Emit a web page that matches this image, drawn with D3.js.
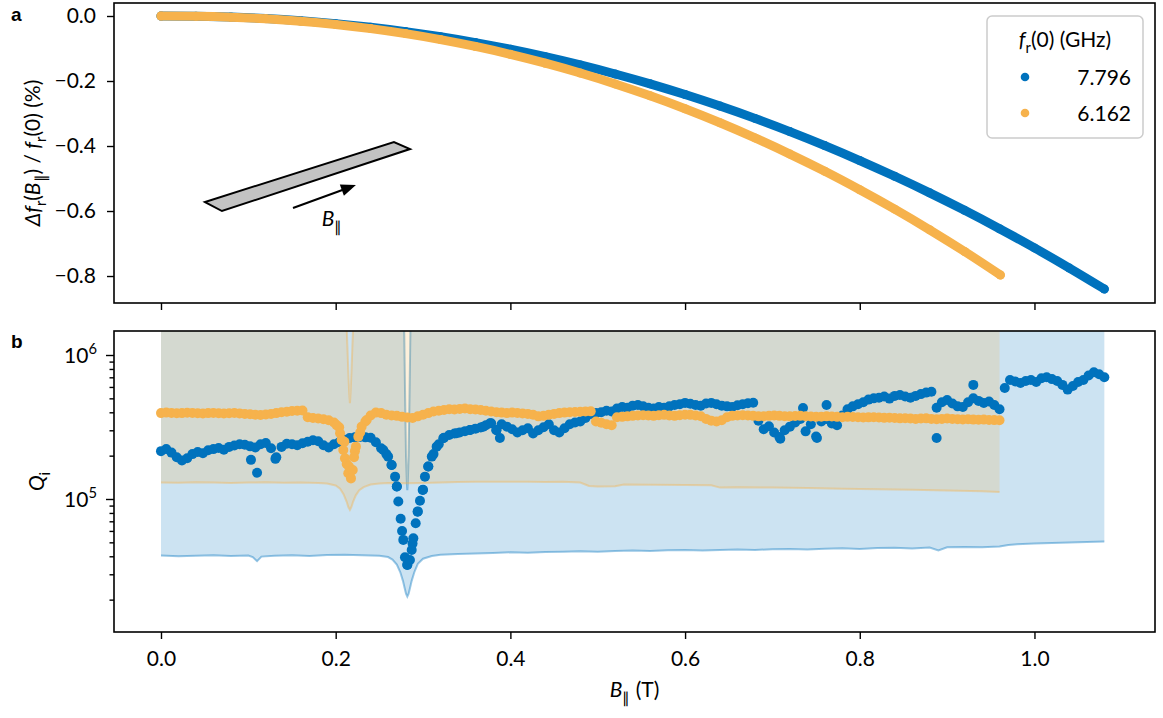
<!DOCTYPE html>
<html><head><meta charset="utf-8">
<script src="https://cdn.jsdelivr.net/npm/d3@7"></script>
<style>body{margin:0;background:#fff}</style>
</head><body>
<svg id="c" width="1163" height="718"></svg>
<script>
// ---------------- DATA ----------------
// panel a: relative frequency shift (%) vs B_parallel (T)
const shiftBlueB = [0,0.04,0.08,0.12,0.16,0.20,0.24,0.28,0.32,0.36,0.40,0.44,0.48,0.52,0.56,0.60,0.64,0.68,0.72,0.76,0.80,0.84,0.88,0.92,0.96,1.00,1.04,1.08];
const shiftBlue = [0,-0.0008,-0.0034,-0.008,-0.0147,-0.0235,-0.0346,-0.048,-0.0638,-0.0818,-0.1023,-0.1252,-0.1505,-0.1784,-0.2087,-0.2416,-0.2771,-0.315,-0.3556,-0.3987,-0.4446,-0.4931,-0.5441,-0.5979,-0.6544,-0.7135,-0.7755,-0.84];
const shiftOrangeB = [0,0.04,0.08,0.12,0.16,0.20,0.24,0.28,0.32,0.36,0.40,0.44,0.48,0.52,0.56,0.60,0.64,0.68,0.72,0.76,0.80,0.84,0.88,0.92,0.961];
const shiftOrange = [0,-0.0008,-0.0035,-0.0086,-0.016,-0.026,-0.0388,-0.0542,-0.0725,-0.0937,-0.118,-0.1452,-0.1755,-0.209,-0.2456,-0.2853,-0.3285,-0.375,-0.4248,-0.4778,-0.5345,-0.5943,-0.6578,-0.7247,-0.797];

// panel b: internal quality factor Q_i (in thousands) on a field sweep with step qStep (T)
const qStep = 0.006;
const qBlueK = [
 215,222,210,195,185,192,205,212,208,218,
 222,226,220,230,235,240,238,232,228,240,
 245,225,195,230,242,240,236,244,250,256,
 252,236,228,240,248,258,265,268,270,268,
 266,248,225,205,172,122,60,35,49,82,
 116,168,205,240,266,278,285,290,296,301,
 308,314,325,336,300,330,318,305,290,300,
 310,285,300,315,330,300,290,310,330,340,
 345,365,390,395,400,410,405,425,435,430,
 445,450,440,430,425,435,430,440,450,455,
 465,458,450,445,460,465,455,445,440,435,
 448,455,462,466,350,305,320,290,270,300,
 318,340,360,295,330,272,345,360,335,325,
 380,420,440,455,470,490,500,505,515,498,
 520,527,515,505,520,535,548,555,430,470,
 487,460,440,435,470,500,480,464,475,450,
 420,590,670,655,640,660,670,650,690,700,
 680,660,620,575,610,650,670,720,760,735,
 700];
const qOrangeK = [
 395,398,396,394,395,397,396,394,393,395,
 396,394,392,394,396,393,390,388,385,383,
 386,390,395,400,404,408,410,412,370,365,
 362,358,352,340,315,250,150,215,290,345,
 380,398,395,385,380,378,372,368,365,375,
 385,395,405,410,415,420,418,422,425,420,
 418,415,410,405,400,398,395,398,396,392,
 390,385,375,378,385,390,395,398,400,402,
 404,405,406,345,338,330,325,370,372,375,
 378,380,382,380,378,382,384,380,378,382,
 385,384,380,376,360,350,345,352,370,378,
 380,382,380,378,375,376,378,380,378,376,
 375,377,378,376,374,372,373,375,374,372,
 370,372,371,370,368,369,370,368,366,367,
 365,363,364,362,360,362,363,360,358,360,
 362,360,358,357,358,356,355,356,354,353,
 352];
// extra measured points in the resonance dips and scattered outliers
const blueDipB = [0.2545,0.26,0.264,0.268,0.270,0.2717,0.2744,0.2774,0.2793,0.282,0.285,0.287,0.2889,0.2916,0.2938,0.2965,0.2996,0.3022,0.306,0.31,0.3156,0.3232,0.3385,0.3537,0.369,0.3767,0.384];
const blueDipK = [219,197,172,143,122,96,73,52,39.4,34.8,37.7,44.2,53.3,67.8,81.6,97.3,115.5,143,168,197,231,264,286,301,318,336,301];
const blueOutB = [0.103,0.11,0.131,0.388,0.709,0.735,0.751,0.762,0.888,0.93];
const blueOutK = [187,152,190,265,262,428,265,450,265,620];
const orangeDipB = [0.201,0.205,0.2068,0.2087,0.2106,0.2126,0.2144,0.2152,0.2175,0.2195,0.221,0.2232,0.2259,0.2297,0.2355];
const orangeDipK = [326,286,257,219,192,175,151,168,139,159,195,231,271,318,354];

// shaded bands (thousands): lower bound and upper bound
const blueBandB = [0,0.02,0.04,0.06,0.08,0.10,0.105,0.11,0.115,0.13,0.15,0.17,0.19,0.21,0.23,0.25,0.26,0.265,0.27,0.274,0.277,0.279,0.2805,0.282,0.2835,0.285,0.287,0.29,0.294,0.30,0.31,0.32,0.34,0.36,0.38,0.40,0.42,0.44,0.46,0.48,0.50,0.52,0.54,0.56,0.58,0.60,0.62,0.64,0.66,0.68,0.70,0.72,0.74,0.76,0.78,0.80,0.82,0.84,0.86,0.88,0.89,0.90,0.92,0.94,0.96,0.97,0.98,1.00,1.02,1.04,1.06,1.08];
const blueBandLoK = [40.5,40.0,40.3,40.6,40.2,40.5,39.5,37.0,39.8,40.3,40.6,40.2,40.8,41.0,40.6,40.4,39.5,38,35,31,27,24,22,21,22,24,27,31,35.5,38.5,40.2,41.0,41.5,41.8,42.2,42.6,42.3,42.8,43.0,43.4,43.1,43.5,43.8,43.6,44.0,44.2,43.8,44.3,44.6,44.2,44.8,45.0,44.6,45.2,45.5,45.0,45.6,45.8,45.4,46.0,44.0,46.2,46.5,46.3,46.8,48.0,48.5,49.0,49.4,49.8,50.3,50.6];
const blueBandHiB = [0,0.2775,0.2785,0.2795,0.2805,0.2815,0.282,0.2825,0.2835,0.2845,0.2855,0.2865,1.08];
const blueBandHiK = [3000,3000,1400,500,200,130,115,130,200,500,1400,3000,3000];
const orangeBandB = [0,0.02,0.04,0.06,0.08,0.10,0.12,0.14,0.16,0.18,0.19,0.20,0.205,0.209,0.2125,0.2145,0.2163,0.218,0.22,0.223,0.227,0.232,0.24,0.25,0.26,0.28,0.30,0.32,0.34,0.36,0.38,0.40,0.42,0.44,0.46,0.48,0.49,0.50,0.52,0.53,0.56,0.60,0.63,0.64,0.66,0.70,0.74,0.78,0.82,0.86,0.90,0.94,0.96];
const orangeBandLoK = [130,129.5,130.5,130,129,130,130.5,129.5,130,129,128,124,118,108,96,88,84,88,96,106,115,121,126,128,129,128.5,129,130,131,131.5,132,131.5,132,131,131.5,130,123,122,122.5,126,125.5,125,124.5,120,120.5,120,119,118,117,116,114.5,113,112];
const orangeBandHiB = [0,0.2115,0.2125,0.2135,0.2145,0.2155,0.2163,0.217,0.218,0.219,0.22,0.221,0.96];
const orangeBandHiK = [3000,3000,1600,1100,750,540,462,540,750,1100,1600,3000,3000];

// ticks, legend
const xTicks = [0,0.2,0.4,0.6,0.8,1.0];
const yTicksA = [0,-0.2,-0.4,-0.6,-0.8];
const yMajorB = [1e5,1e6];
const yMajorExp = ["5","6"];
const yMinorB = [2e4,3e4,4e4,5e4,6e4,7e4,8e4,9e4,2e5,3e5,4e5,5e5,6e5,7e5,8e5,9e5];
const legendLabels = ["7.796","6.162"];

// inset sketch (data coordinates of panel a)
const insetBar = [[0.0504,-0.5723],[0.0698,-0.6],[0.2851,-0.4092],[0.2667,-0.3877]];
const insetArrow = [[0.1511,-0.5908],[0.2232,-0.52]];
const insetLabel = [0.184,-0.645];

// ---------------- STYLE / LAYOUT ----------------
const BLUE = "#0072bd", ORANGE = "#f6b24c";
const FONT = "Lato, 'Open Sans', sans-serif";
const FS = 21;
const L = 114, R = 1155;
const PA = {top:3, bottom:303}, PB = {top:331, bottom:632};

const svg = d3.select("#c");
const x = d3.scaleLinear().domain([-0.0538, 1.138]).range([L, R]);
const ya = d3.scaleLinear().domain([-0.883, 0.04]).range([PA.bottom, PA.top]);
const yb = d3.scaleLog().domain([1.192e4, 1.468e6]).range([PB.bottom, PB.top]);

function rich(t, parts, size){
  let shift = 0;
  parts.forEach(p=>{
    const target = p.sub ? 0.28*size : p.sup ? -0.45*size : 0;
    const ts = t.append("tspan").text(p.t).attr("dy", target - shift);
    shift = target;
    if (p.sub || p.sup) ts.attr("font-size", size*0.7);
    if (p.i) ts.attr("font-style", "italic");
  });
}

svg.append("defs").append("clipPath").attr("id","clipB")
  .append("rect").attr("x",L).attr("y",PB.top).attr("width",R-L).attr("height",PB.bottom-PB.top);
svg.select("defs").append("clipPath").attr("id","clipA")
  .append("rect").attr("x",L).attr("y",PA.top).attr("width",R-L).attr("height",PA.bottom-PA.top);

// ---------------- PANEL A ----------------
const gA = svg.append("g").attr("clip-path","url(#clipA)");
const lineA = d3.line().x(d=>x(d[0])).y(d=>ya(d[1])).curve(d3.curveMonotoneX);
[[shiftBlueB, shiftBlue, BLUE],[shiftOrangeB, shiftOrange, ORANGE]].forEach(([bs, vs, col])=>{
  const pts = bs.map((b,i)=>[b, vs[i]]);
  gA.append("path").attr("d", lineA(pts)).attr("fill","none").attr("stroke",col)
    .attr("stroke-width",9).attr("stroke-linecap","round");
  gA.selectAll(null).data(pts).enter().append("circle")
    .attr("cx",d=>x(d[0])).attr("cy",d=>ya(d[1])).attr("r",4.5).attr("fill",col);
});

// inset sketch
svg.append("polygon")
  .attr("points", insetBar.map(p=>[x(p[0]), ya(p[1])].join(",")).join(" "))
  .attr("fill","#c3c3c3").attr("stroke","#000").attr("stroke-width",2).attr("stroke-linejoin","miter");
{
  const x0 = x(insetArrow[0][0]), y0 = ya(insetArrow[0][1]);
  const x1 = x(insetArrow[1][0]), y1 = ya(insetArrow[1][1]);
  const ang = Math.atan2(y1-y0, x1-x0), hl = 15, hw = 6;
  const bx = x1 - hl*Math.cos(ang), by = y1 - hl*Math.sin(ang);
  svg.append("line").attr("x1",x0).attr("y1",y0).attr("x2",bx+2*Math.cos(ang)).attr("y2",by+2*Math.sin(ang))
    .attr("stroke","#000").attr("stroke-width",2);
  const px = -Math.sin(ang), py = Math.cos(ang);
  svg.append("polygon").attr("points",
    [[x1,y1],[bx+hw*px, by+hw*py],[bx-hw*px, by-hw*py]].map(p=>p.join(",")).join(" "))
    .attr("fill","#000");
  const t = svg.append("text").attr("x", x(insetLabel[0])).attr("y", ya(insetLabel[1]))
    .attr("font-family",FONT).attr("font-size",FS);
  rich(t, [{t:"B",i:true},{t:"\u2225",sub:true}], FS);
}

// legend
{
  const lg = svg.append("g");
  lg.append("rect").attr("x",987).attr("y",16).attr("width",156).attr("height",122).attr("rx",5)
    .attr("fill","rgba(255,255,255,0.85)").attr("stroke","#cccccc").attr("stroke-width",1.5);
  const t = lg.append("text").attr("x",1065).attr("y",47).attr("text-anchor","middle")
    .attr("font-family",FONT).attr("font-size",FS);
  rich(t, [{t:"f",i:true},{t:"r",sub:true},{t:"(0) (GHz)"}], FS);
  [BLUE, ORANGE].forEach((c,i)=>{
    const yy = 77 + i*36;
    lg.append("circle").attr("cx",1025).attr("cy",yy).attr("r",4.3).attr("fill",c);
    lg.append("text").attr("x",1131).attr("y",yy+7.5).attr("text-anchor","end")
      .attr("font-family",FONT).attr("font-size",FS).text(legendLabels[i]);
  });
}

// ---------------- PANEL B ----------------
const gB = svg.append("g").attr("clip-path","url(#clipB)");
const lineB = d3.line().x(d=>x(d[0])).y(d=>yb(d[1]*1e3));
function band(bB, lo, hB, hi, col, fillOp, lineOp){
  const low = bB.map((b,i)=>[b, lo[i]]);
  const high = hB.map((b,i)=>[b, hi[i]]);
  gB.append("path").attr("d", lineB(low.concat(high.slice().reverse())) + "Z")
    .attr("fill", col).attr("fill-opacity", fillOp).attr("stroke","none");
  [low, high].forEach(pts=>{
    gB.append("path").attr("d", lineB(pts)).attr("fill","none")
      .attr("stroke", col).attr("stroke-opacity", lineOp).attr("stroke-width",2);
  });
}
band(blueBandB, blueBandLoK, blueBandHiB, blueBandHiK, BLUE, 0.2, 0.4);
band(orangeBandB, orangeBandLoK, orangeBandHiB, orangeBandHiK, ORANGE, 0.2, 0.4);

function scatter(grid, dipB, dipK, outB, outK, col){
  const pts = grid.map((q,i)=>[i*qStep, q])
    .concat(dipB.map((b,i)=>[b, dipK[i]]))
    .concat(outB.map((b,i)=>[b, outK[i]]));
  gB.selectAll(null).data(pts).enter().append("circle")
    .attr("cx",d=>x(d[0])).attr("cy",d=>yb(d[1]*1e3)).attr("r",5).attr("fill",col);
}
scatter(qBlueK, blueDipB, blueDipK, blueOutB, blueOutK, BLUE);
scatter(qOrangeK, orangeDipB, orangeDipK, [], [], ORANGE);

// ---------------- AXES ----------------
function styleAxis(g){
  g.select(".domain").remove();
  g.selectAll(".tick line").attr("stroke","#000").attr("stroke-width",1.4);
  g.selectAll("text").attr("font-family",FONT).attr("font-size",FS).attr("fill","#000");
}
// panel a
svg.append("g").attr("transform",`translate(0,${PA.bottom})`)
  .call(d3.axisBottom(x).tickValues(xTicks).tickSize(7).tickFormat("")).call(styleAxis);
svg.append("g").attr("transform",`translate(${L},0)`)
  .call(d3.axisLeft(ya).tickValues(yTicksA).tickSize(7).tickPadding(11).tickFormat(d3.format(".1f"))).call(styleAxis);
// panel b
svg.append("g").attr("transform",`translate(0,${PB.bottom})`)
  .call(d3.axisBottom(x).tickValues(xTicks).tickSize(7).tickPadding(12).tickFormat(d3.format(".1f"))).call(styleAxis);
svg.append("g").attr("transform",`translate(${L},0)`)
  .call(d3.axisLeft(yb).tickValues(yMajorB).tickSize(8).tickFormat("")).call(styleAxis);
svg.append("g").attr("transform",`translate(${L},0)`)
  .call(d3.axisLeft(yb).tickValues(yMinorB).tickSize(4.5).tickFormat("")).call(styleAxis);
yMajorB.forEach((v,i)=>{
  const t = svg.append("text").attr("x",97).attr("y",yb(v)+8).attr("text-anchor","end")
    .attr("font-family",FONT).attr("font-size",FS);
  rich(t, [{t:"10"},{t:yMajorExp[i],sup:true}], FS);
});

// frames
[PA, PB].forEach(p=>{
  svg.append("rect").attr("x",L).attr("y",p.top).attr("width",R-L).attr("height",p.bottom-p.top)
    .attr("fill","none").attr("stroke","#000").attr("stroke-width",1.6);
});

// axis titles
{
  const t = svg.append("text").attr("transform",`translate(40,${(PA.top+PA.bottom)/2}) rotate(-90)`)
    .attr("text-anchor","middle").attr("font-family",FONT).attr("font-size",FS);
  rich(t, [{t:"\u0394f",i:true},{t:"r",sub:true},{t:"("},{t:"B",i:true},{t:"\u2225",sub:true},
           {t:") / "},{t:"f",i:true},{t:"r",sub:true},{t:"(0) (%)"}], FS);
  const q = svg.append("text").attr("transform",`translate(44,${(PB.top+PB.bottom)/2}) rotate(-90)`)
    .attr("text-anchor","middle").attr("font-family",FONT).attr("font-size",FS);
  rich(q, [{t:"Q",i:true},{t:"i",sub:true}], FS);
  const xt = svg.append("text").attr("x",(L+R)/2).attr("y",697).attr("text-anchor","middle")
    .attr("font-family",FONT).attr("font-size",FS);
  rich(xt, [{t:"B",i:true},{t:"\u2225",sub:true},{t:" (T)"}], FS);
}
// panel letters
svg.append("text").attr("x",11).attr("y",21).attr("font-family","'Liberation Sans', Arial, sans-serif")
  .attr("font-weight","bold").attr("font-size",19).text("a");
svg.append("text").attr("x",11).attr("y",348).attr("font-family","'Liberation Sans', Arial, sans-serif")
  .attr("font-weight","bold").attr("font-size",19).text("b");
</script>
</body></html>
